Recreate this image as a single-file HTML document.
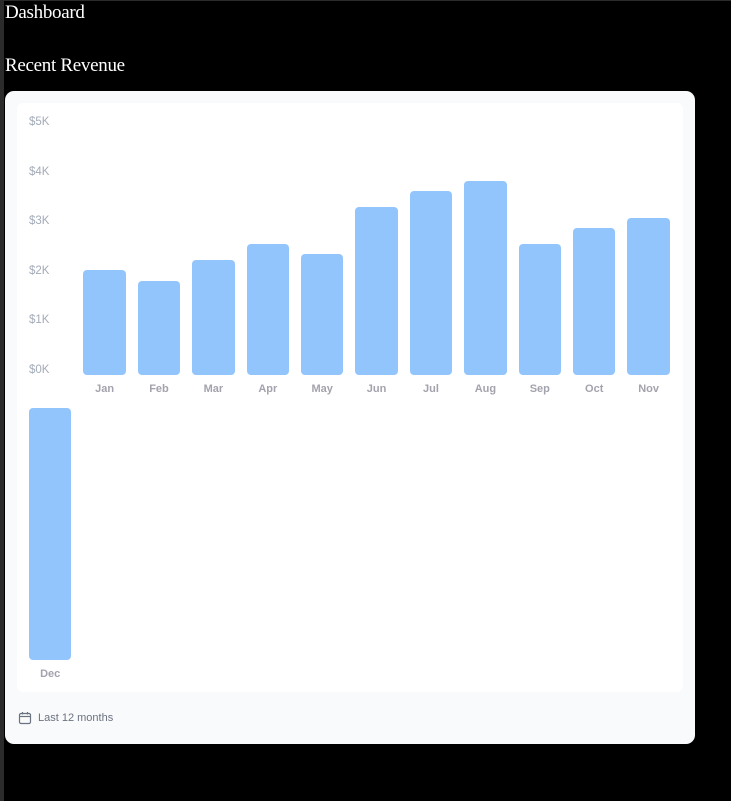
<!DOCTYPE html>
<html><head><meta charset="utf-8"><style>
html,body{margin:0;padding:0;background:#000;width:731px;height:801px;overflow:hidden;}
body{position:relative;font-family:"Liberation Sans",sans-serif;}
#strip{position:absolute;left:0;top:0;width:4px;height:801px;background:#2b2b2b;}
#topline{position:absolute;left:0;top:0;width:731px;height:1px;background:#2b2b2b;}
h1,h2{position:absolute;left:5px;margin:0;font-family:"Liberation Serif",serif;font-weight:normal;color:#fff;font-size:19px;line-height:24px;letter-spacing:-0.3px;}
#card{position:absolute;left:5px;top:91px;width:690px;height:653px;background:#f9fafb;border-radius:9px;}
#inner{position:absolute;left:12px;top:12px;width:666px;height:589px;background:#fff;border-radius:6px;}
.yl{position:absolute;left:12px;font-size:11.5px;color:#a3abb8;line-height:12px;}
.bar{position:absolute;background:#93c5fd;border-radius:4px;}
.ml{position:absolute;font-size:11px;color:#a3a3ad;font-weight:bold;text-align:center;line-height:12px;}
#foot{position:absolute;left:38px;top:712px;font-size:11px;color:#6b7280;line-height:13px;}
</style></head><body>
<div id="strip"></div>
<div id="topline"></div>
<h1 style="top:1px">Dashboard</h1>
<h2 style="top:54px">Recent Revenue</h2>
<div id="card">
  <div id="inner"></div>
</div>
<svg style="position:absolute;left:18px;top:711px" width="14" height="14" viewBox="0 0 14 14">
  <rect x="1.5" y="2.5" width="11" height="10" rx="1.5" fill="none" stroke="#6b7280" stroke-width="1.2"/>
  <line x1="1.5" y1="5.5" x2="12.5" y2="5.5" stroke="#6b7280" stroke-width="1.2"/>
  <line x1="4.5" y1="1" x2="4.5" y2="3.5" stroke="#6b7280" stroke-width="1.2"/>
  <line x1="9.5" y1="1" x2="9.5" y2="3.5" stroke="#6b7280" stroke-width="1.2"/>
</svg>
<div id="foot">Last 12 months</div>
<script>
const months=["Jan","Feb","Mar","Apr","May","Jun","Jul","Aug","Sep","Oct","Nov","Dec"];
const revenue=[2000,1800,2200,2500,2300,3200,3500,3700,2500,2800,3000,4800];
const yTicks=["$5K","$4K","$3K","$2K","$1K","$0K"];
const inner=document.getElementById('inner');
const pxPer=0.0525, colW=42.4, gap=12.0, left0=12;
yTicks.forEach((t,i)=>{
  const d=document.createElement('div');
  d.className='yl';
  
  
  d.style.top=(19+i*49.6-6)+'px';
  d.textContent=t;
  inner.appendChild(d);
});
months.forEach((m,i)=>{
  const slot=i+1;
  const row=Math.floor(slot/12), col=slot%12;
  const base=row===0?272:557;
  const x=left0+col*(colW+gap);
  const h=revenue[i]*pxPer;
  const b=document.createElement('div');
  b.className='bar';
  
  
  b.style.left=x+'px';b.style.width=colW+'px';
  b.style.top=(base-h)+'px';b.style.height=h+'px';
  inner.appendChild(b);
  const l=document.createElement('div');
  l.className='ml';
  
  
  l.style.left=x+'px';l.style.width=colW+'px';
  l.style.top=(base+8)+'px';
  l.textContent=m;
  inner.appendChild(l);
});
</script>
</body></html>
